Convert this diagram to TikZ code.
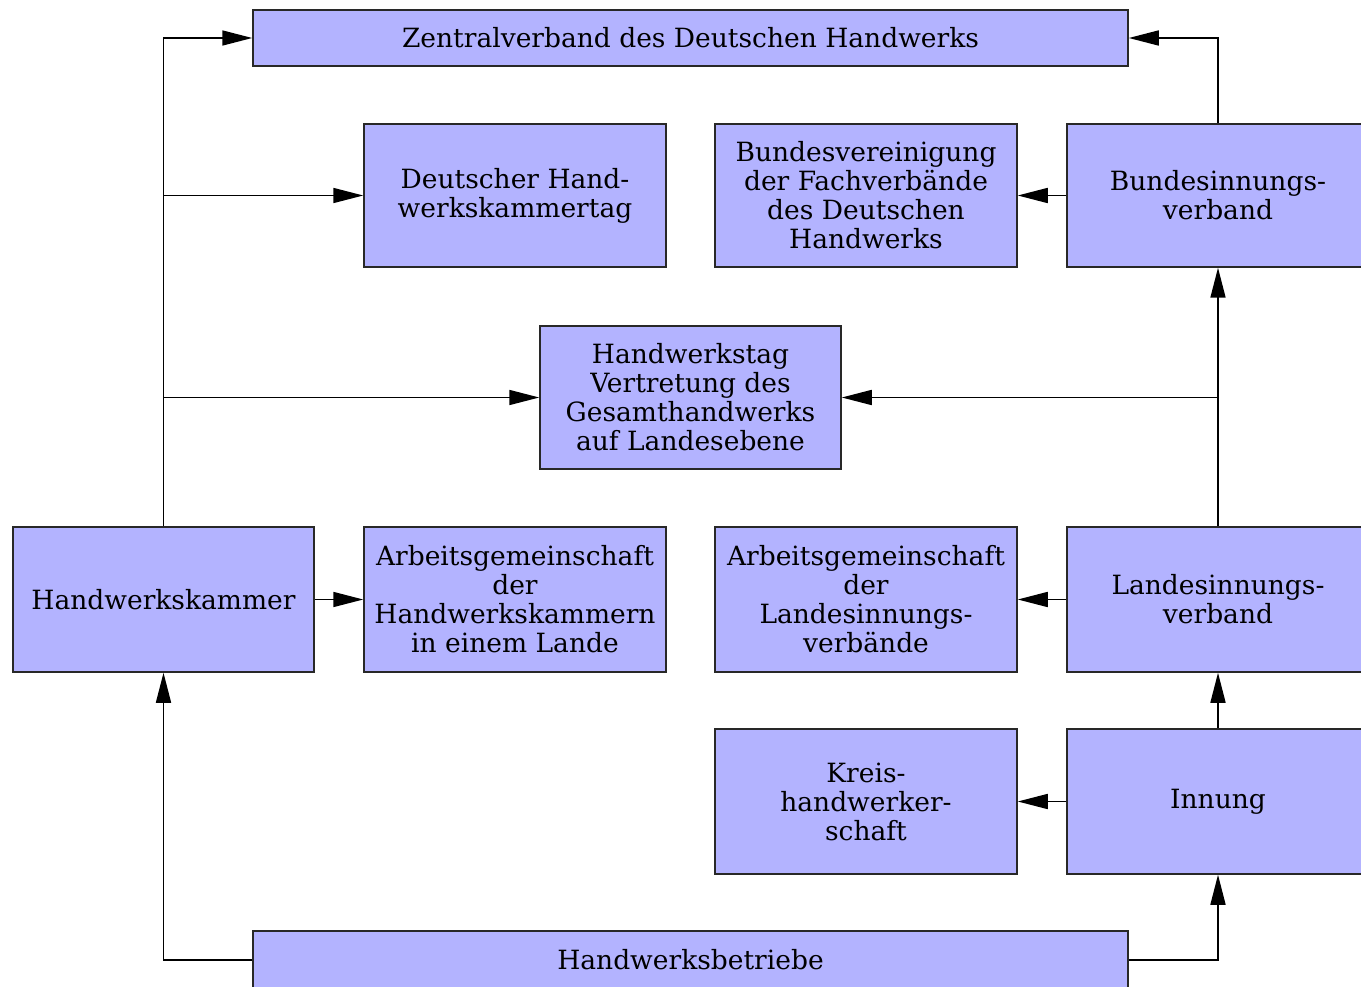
\documentclass[tikz,border=0pt]{standalone}
\usepackage{fontspec}
\setmainfont{DejaVu Serif}
\usetikzlibrary{arrows.meta}
\definecolor{boxfill}{RGB}{179,179,255}
\definecolor{boxline}{RGB}{40,40,40}
\begin{document}
\begin{tikzpicture}[x=1pt,y=-1pt,
  box/.style={draw=boxline,fill=boxfill,line width=1.5pt,inner sep=0pt,align=center,
    font=\fontsize{26.5}{29}\selectfont},
  conn/.style={line width=1.6pt,-{Triangle[length=30pt,width=15pt]}}]
\useasboundingbox (0,0) rectangle (1361,987);
\begin{scope}
\clip (0,0) rectangle (1361,987);
\node[box,minimum width=875pt,minimum height=56pt] (zv) at (690.5,38) {Zentralverband des Deutschen Handwerks};
\node[box,minimum width=302pt,minimum height=143pt] (dht) at (515,195.5) {Deutscher Hand-\\werkskammertag};
\node[box,minimum width=302pt,minimum height=143pt] (bv) at (866,195.5) {Bundesvereinigung\\der Fachverbände\\des Deutschen\\Handwerks};
\node[box,minimum width=302pt,minimum height=143pt] (biv) at (1218,195.5) {Bundesinnungs-\\verband};
\node[box,minimum width=301pt,minimum height=143pt] (ht) at (690.5,397.5) {Handwerkstag\\Vertretung des\\Gesamthandwerks\\auf Landesebene};
\node[box,minimum width=301pt,minimum height=145pt] (hwk) at (163.5,599.5) {Handwerkskammer};
\node[box,minimum width=302pt,minimum height=145pt] (aghwk) at (515,599.5) {Arbeitsgemeinschaft\\der\\Handwerkskammern\\in einem Lande};
\node[box,minimum width=302pt,minimum height=145pt] (agliv) at (866,599.5) {Arbeitsgemeinschaft\\der\\Landesinnungs-\\verbände};
\node[box,minimum width=302pt,minimum height=145pt] (liv) at (1218,599.5) {Landesinnungs-\\verband};
\node[box,minimum width=302pt,minimum height=145pt] (kh) at (866,801.5) {Kreis-\\handwerker-\\schaft};
\node[box,minimum width=302pt,minimum height=145pt] (inn) at (1218,801.5) {Innung};
\node[box,minimum width=875pt,minimum height=58pt] (hb) at (690.5,960) {Handwerksbetriebe};

\coordinate (lt) at (hwk.north |- zv.west);
\coordinate (l1) at (hwk.north |- dht.west);
\coordinate (l2) at (hwk.north |- ht.west);
\coordinate (rt) at (biv.north |- zv.east);
\coordinate (r2) at (liv.north |- ht.east);
\coordinate (lb) at (hwk.south |- hb.west);
\coordinate (rb) at (inn.south |- hb.east);

\draw[conn] (hwk.north) -- (lt) -- (zv.west);
\draw[conn] (l1) -- (dht.west);
\draw[conn] (l2) -- (ht.west);
\draw[conn] (hwk.east) -- (aghwk.west);
\draw[conn] (biv.north) -- (rt) -- (zv.east);
\draw[conn] (biv.west) -- (bv.east);
\draw[conn] (liv.north) -- (biv.south);
\draw[conn] (r2) -- (ht.east);
\draw[conn] (liv.west) -- (agliv.east);
\draw[conn] (inn.north) -- (liv.south);
\draw[conn] (inn.west) -- (kh.east);
\draw[conn] (hb.west) -- (lb) -- (hwk.south);
\draw[conn] (hb.east) -- (rb) -- (inn.south);
\end{scope}
\end{tikzpicture}
\end{document}
